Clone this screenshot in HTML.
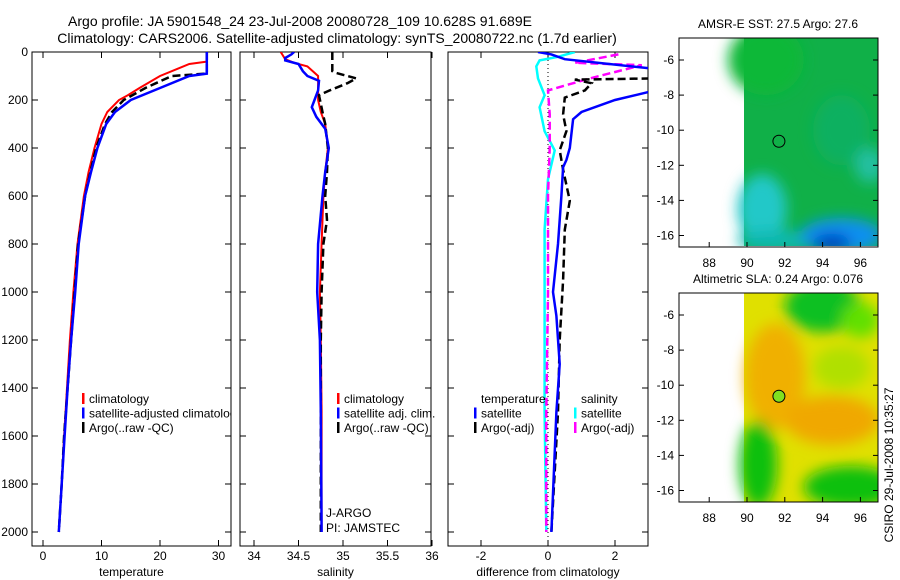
<!DOCTYPE html>
<html><head><meta charset="utf-8">
<style>
html,body{margin:0;padding:0;background:#fff;}
svg{display:block;font-family:"Liberation Sans",sans-serif;}
text{font-size:12px;fill:#000;}
</style></head>
<body>
<svg id="fig" width="900" height="580" viewBox="0 0 900 580">
<defs>
<clipPath id="c1"><rect x="32" y="52" width="199" height="494"/></clipPath>
<clipPath id="c2"><rect x="240" y="52" width="191" height="494"/></clipPath>
<clipPath id="c3"><rect x="448" y="52" width="200" height="494"/></clipPath>
<clipPath id="cm1"><rect x="679" y="38" width="199" height="208"/></clipPath>
<clipPath id="cm2"><rect x="679" y="293" width="199" height="209"/></clipPath>
<filter id="bl" x="-50%" y="-50%" width="200%" height="200%"><feGaussianBlur stdDeviation="7"/></filter>
</defs>
<text x="300" y="26" text-anchor="middle" style="font-size:14px">Argo profile: JA 5901548_24 23-Jul-2008 20080728_109 10.628S 91.689E</text>
<text x="337" y="43" text-anchor="middle" style="font-size:14px">Climatology: CARS2006. Satellite-adjusted climatology: synTS_20080722.nc (1.7d earlier)</text>
<g id="g1"></g>
<g id="g2"></g>
<g id="g3"></g>
<g id="m1"></g>
<g id="m2"></g>
<text transform="translate(893,465) rotate(-90)" text-anchor="middle">CSIRO 29-Jul-2008 10:35:27</text>
</svg>
<script>
const depthTicks=[0,200,400,600,800,1000,1200,1400,1600,1800,2000];
const tempTicks=[0,10,20,30];
const salTicks=[34,34.5,35,35.5,36];
const diffTicks=[-2,0,2];
// temperature profiles
const tClimD=[0,40,50,70,100,150,180,200,250,300,400,500,600,800,1000,1200,1400,1600,1800,2000];
const tClimV=[28,28,25,23,20,16.5,14.5,13,11,10,8.8,7.8,7,5.9,5.2,4.6,4.1,3.6,3.2,2.7];
const tSatD=[0,90,100,150,200,250,300,400,500,600,800,1000,1200,1400,1600,1800,2000];
const tSatV=[28,28,25,20,15,12.3,10.8,9.3,8.2,7.2,6.1,5.5,4.8,4.2,3.7,3.2,2.7];
const tArgD=[0,90,100,150,200,250,300,400,500,600,800,1000,1200,1400,1600,1800,2000];
const tArgV=[28,28,22,17.5,13.8,11.8,10.6,9.1,8.1,7.2,6.0,5.4,4.8,4.2,3.6,3.2,2.7];
// salinity profiles
const sClimD=[0,30,45,60,100,150,200,250,300,400,500,600,800,1000,1200,1500,2000];
const sClimV=[34.3,34.35,34.45,34.6,34.72,34.72,34.72,34.75,34.8,34.83,34.8,34.78,34.76,34.74,34.75,34.76,34.76];
const sSatD=[0,10,25,35,50,80,100,120,160,200,230,270,320,400,500,600,800,1000,1200,1500,2000];
const sSatV=[34.45,34.42,34.35,34.35,34.5,34.55,34.6,34.73,34.72,34.68,34.65,34.7,34.8,34.84,34.8,34.77,34.72,34.71,34.74,34.75,34.76];
const sArgD=[0,80,85,110,130,160,180,250,300,400,500,600,700,800,1000,1200,1500,2000];
const sArgV=[34.88,34.88,34.9,35.15,35.05,34.85,34.73,34.77,34.8,34.83,34.82,34.8,34.82,34.78,34.76,34.75,34.75,34.75];
// differences
const dTSatD=[0,10,30,75,160,200,250,280,400,450,480,600,800,1000,1100,1300,1500,2000];
const dTSatV=[-0.3,0.1,0.5,3.5,3.2,2.0,1.0,0.75,0.65,0.55,0.45,0.4,0.3,0.15,0.25,0.35,0.25,0.1];
const dTArgD=[60,80,110,115,130,160,190,260,330,410,490,620,740,950,1200,1500,2000];
const dTArgV=[3.5,3.2,3.2,0.8,1.3,1.1,0.5,0.45,0.55,0.35,0.45,0.65,0.5,0.45,0.35,0.3,0.1];
const dSSatD=[0,20,35,60,110,180,230,330,410,530,740,1000,1500,2000];
const dSSatV=[0.8,0.3,-0.25,-0.35,-0.3,-0.1,-0.25,-0.1,0.2,0,-0.1,-0.1,-0.1,-0.05];
const dSArgD=[10,45,55,110,160,260,400,600,1000,1500,2000];
const dSArgV=[2.1,0.8,2.8,1.25,0,0.05,0.05,0,0,-0.05,-0.05];

const NS='http://www.w3.org/2000/svg';
function mk(tag,attrs,parent){const e=document.createElementNS(NS,tag);for(const k in attrs)e.setAttribute(k,attrs[k]);parent.appendChild(e);return e;}
const y=d=>52+d*0.24;
const xT=v=>43+v*5.85;
const xS=v=>254+(v-34)*89;
const xD=v=>548+v*33.5;
function path(ds,vs,xf){return ds.map((d,i)=>(i?'L':'M')+xf(vs[i]).toFixed(1)+','+y(d).toFixed(1)).join(' ');}
function panel(g,x0,x1,xf,ticks,fmt,label,clip,withY){
  const r=mk('rect',{x:x0,y:52,width:x1-x0,height:494,fill:'#fff',stroke:'#000','stroke-width':1},g);
  
  
  depthTicks.forEach(d=>{
    mk('line',{x1:x0,x2:x0+6,y1:y(d),y2:y(d),stroke:'#000'},g);
    mk('line',{x1:x1-6,x2:x1,y1:y(d),y2:y(d),stroke:'#000'},g);
    if(withY){const t=mk('text',{x:x0-4,y:y(d)+4,'text-anchor':'end'},g);t.textContent=d;
      
      }
  });
  ticks.forEach(v=>{
    mk('line',{x1:xf(v),x2:xf(v),y1:546,y2:540,stroke:'#000'},g);
    mk('line',{x1:xf(v),x2:xf(v),y1:52,y2:58,stroke:'#000'},g);
    const t=mk('text',{x:xf(v),y:560,'text-anchor':'middle'},g);t.textContent=fmt(v);
    
    
  });
  const t=mk('text',{x:(x0+x1)/2,y:576,'text-anchor':'middle'},g);t.textContent=label;
  
  
}
function line(g,ds,vs,xf,col,w,dash,clip,name){
  const p=mk('path',{d:path(ds,vs,xf),fill:'none',stroke:col,'stroke-width':w,'clip-path':'url(#'+clip+')'},g);
  if(dash)p.setAttribute('stroke-dasharray',dash);
  
  
}
function legend(g,x,y0,items){
  items.forEach((it,i)=>{
    const yy=y0+i*14.5;
    if(it.c)mk('rect',{x:x,y:yy-10,width:2.5,height:11,fill:it.c},g);
    const t=mk('text',{x:x+7,y:yy},g);t.textContent=it.t;
    
    
  });
}
const g1=document.getElementById('g1'),g2=document.getElementById('g2'),g3=document.getElementById('g3');
panel(g1,32,231,xT,tempTicks,v=>v,'temperature','c1',true);
line(g1,tClimD,tClimV,xT,'#f00',2,null,'c1','temp-climatology-line');
line(g1,tArgD,tArgV,xT,'#000',2.5,'8,4','c1','temp-argo-line');
line(g1,tSatD,tSatV,xT,'#00f',2.5,null,'c1','temp-satellite-line');
const lg1=mk('g',{'clip-path':'url(#c1)'},g1);
legend(lg1,82,403,[{c:'#f00',t:'climatology'},{c:'#00f',t:'satellite-adjusted climatology'},{c:'#000',t:'Argo(..raw -QC)'}]);

panel(g2,240,431,xS,salTicks,v=>v,'salinity','c2',false);
line(g2,sClimD,sClimV,xS,'#f00',2,null,'c2','sal-climatology-line');
line(g2,sArgD,sArgV,xS,'#000',2.5,'8,4','c2','sal-argo-line');
line(g2,sSatD,sSatV,xS,'#00f',2.5,null,'c2','sal-satellite-line');
legend(g2,337,403,[{c:'#f00',t:'climatology'},{c:'#00f',t:'satellite adj. clim.'},{c:'#000',t:'Argo(..raw -QC)'}]);
let tt=mk('text',{x:326,y:517},g2);tt.textContent='J-ARGO';


tt=mk('text',{x:326,y:532},g2);tt.textContent='PI: JAMSTEC';



panel(g3,448,648,xD,diffTicks,v=>v,'difference from climatology','c3',false);
mk('line',{x1:xD(0),x2:xD(0),y1:52,y2:546,stroke:'#000','stroke-dasharray':'1,3'},g3);
line(g3,dSSatD,dSSatV,xD,'#0ff',2.5,null,'c3','diff-sal-satellite-line');
line(g3,dSArgD,dSArgV,xD,'#f0f',2.5,'8,4','c3','diff-sal-argo-line');
line(g3,dTArgD,dTArgV,xD,'#000',2.5,'8,4','c3','diff-temp-argo-line');
line(g3,dTSatD,dTSatV,xD,'#00f',2.5,null,'c3','diff-temp-satellite-line');
legend(g3,474,403,[{c:null,t:'temperature'},{c:'#00f',t:'satellite'},{c:'#000',t:'Argo(-adj)'}]);
legend(g3,574,403,[{c:null,t:'salinity'},{c:'#0ff',t:'satellite'},{c:'#f0f',t:'Argo(-adj)'}]);

// maps
const lonTicks=[88,90,92,94,96];
const latTicks=[-6,-8,-10,-12,-14,-16];
function map(g,top,title,clip,blobs,base){
  const lx=lon=>747+(lon-90)*18.9;
  const ly=lat=>top+22+(-6-lat)*17.55;
  const t=mk('text',{x:778,y:top-10,'text-anchor':'middle'},g);t.textContent=title;
  
  
  const cg=mk('g',{'clip-path':'url(#'+clip+')'},g);
  mk('rect',{x:744,y:top,width:134,height:209,fill:base},cg);
  const bg=mk('g',{filter:'url(#bl)'},cg);
  blobs.forEach(b=>mk('ellipse',{cx:lx(b[0]),cy:ly(b[1]),rx:b[2]*18.9,ry:b[3]*17.55,fill:b[4]},bg));
  mk('rect',{x:679,y:top,width:199,height:209,fill:'none',stroke:'#000'},g);
  lonTicks.forEach(v=>{mk('line',{x1:lx(v),x2:lx(v),y1:top+209,y2:top+204,stroke:'#000'},g);
    const s=mk('text',{x:lx(v),y:top+229,'text-anchor':'middle'},g);s.textContent=v;
    
    });
  latTicks.forEach(v=>{mk('line',{x1:878,x2:873,y1:ly(v),y2:ly(v),stroke:'#000'},g);
    mk('line',{x1:679,x2:684,y1:ly(v),y2:ly(v),stroke:'#000'},g);
    const s=mk('text',{x:674,y:ly(v)+4,'text-anchor':'end'},g);s.textContent=v;
    
    });
  const c=mk('circle',{cx:lx(91.689),cy:ly(-10.628),r:6,fill:'none',stroke:'#000'},g);
  
  
  return c;
}
map(document.getElementById('m1'),38,'AMSR-E SST: 27.5  Argo: 27.6','cm1',[
  [91,-6,2,2,'#10b838'],[95,-10,1.5,2,'#10b060'],[96.5,-12,0.8,1,'#20c0a0'],
  [90.8,-14.5,1.3,2,'#20c8c8'],[91.5,-16.3,2,0.6,'#10b8b0'],[95,-16,2.2,1,'#1090f0'],[94.5,-16.4,1,0.5,'#0040c0']],'#10b048');
const c2=map(document.getElementById('m2'),293,'Altimetric SLA: 0.24  Argo: 0.076','cm2',[
  [94,-5.5,2,1.5,'#10c020'],[96,-6.3,1,1,'#60e000'],[91.5,-9.5,1.6,3,'#f0b000'],[94.5,-12,2.5,1.4,'#f0a800'],
  [90.6,-14.5,1,2.5,'#10c010'],[95.5,-15.8,2.5,1.2,'#10c010'],[95,-9,1.5,1.2,'#b0e000']],'#e0e000');
c2.setAttribute('fill','#80e020');
</script>
</body></html>
